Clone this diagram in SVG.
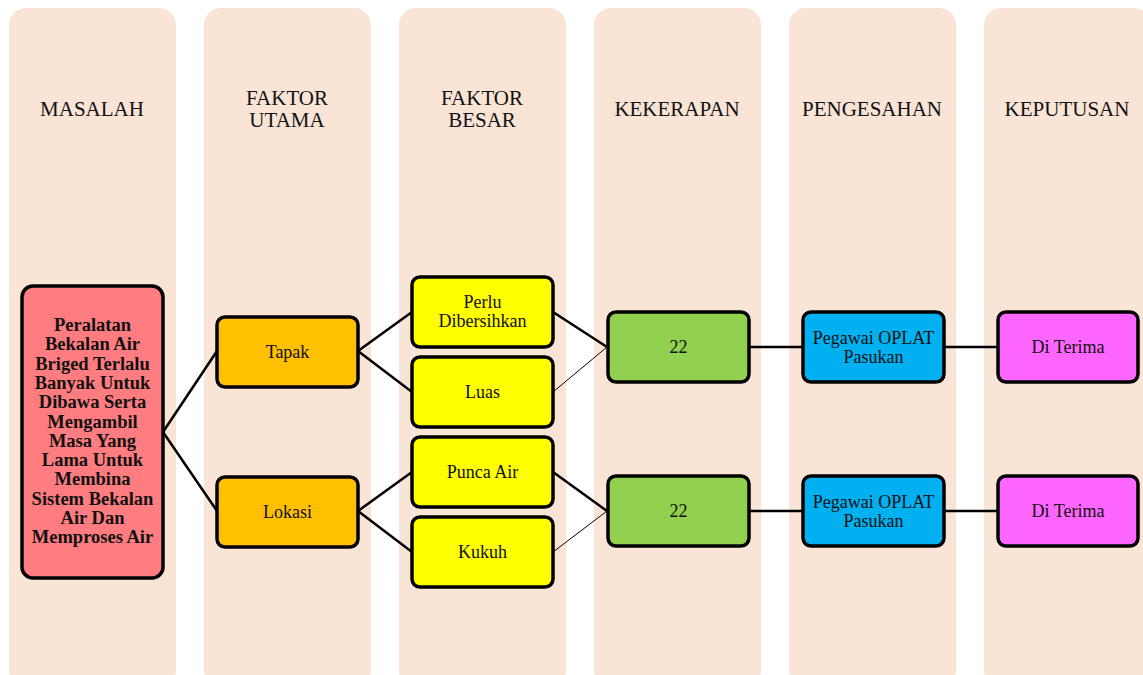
<svg xmlns="http://www.w3.org/2000/svg" width="1143" height="675" viewBox="0 0 1143 675">
<style>
.lane{fill:#FAE4D6;}
.hd{font-family:"Liberation Serif",serif;font-size:21px;fill:#111;text-anchor:middle;}
.nd{stroke:#000;stroke-width:3.5;}
.tx{font-family:"Liberation Serif",serif;font-size:18px;fill:#111;text-anchor:middle;dominant-baseline:central;}
.bt{font-family:"Liberation Serif",serif;font-size:18.5px;font-weight:bold;fill:#111;text-anchor:middle;dominant-baseline:central;}
.ck{stroke:#000;stroke-width:2.5;fill:none;}
.cn{stroke:#000;stroke-width:1;fill:none;}
</style>
<rect width="1143" height="675" fill="#fff"/>
<g id="lanes">
<rect class="lane" x="9" y="8" width="167" height="680" rx="17"/>
<rect class="lane" x="204" y="8" width="167" height="680" rx="17"/>
<rect class="lane" x="399" y="8" width="167" height="680" rx="17"/>
<rect class="lane" x="594" y="8" width="167" height="680" rx="17"/>
<rect class="lane" x="789" y="8" width="167" height="680" rx="17"/>
<rect class="lane" x="984" y="8" width="167" height="680" rx="17"/>
<text class="hd" x="92" y="116">MASALAH</text>
<text class="hd" x="287" y="105">FAKTOR</text>
<text class="hd" x="287" y="127">UTAMA</text>
<text class="hd" x="482" y="105">FAKTOR</text>
<text class="hd" x="482" y="127">BESAR</text>
<text class="hd" x="677" y="116">KEKERAPAN</text>
<text class="hd" x="872" y="116">PENGESAHAN</text>
<text class="hd" x="1067" y="116">KEPUTUSAN</text>
</g>
<g id="connectors">
<line class="ck" x1="163" y1="432" x2="217" y2="351"/>
<line class="ck" x1="163" y1="432" x2="217" y2="511"/>
<line class="ck" x1="358" y1="351" x2="412" y2="312"/>
<line class="ck" x1="358" y1="351" x2="412" y2="392"/>
<line class="ck" x1="358" y1="511" x2="412" y2="472"/>
<line class="ck" x1="358" y1="511" x2="412" y2="552"/>
<line class="ck" x1="553" y1="312" x2="607" y2="347"/>
<line class="cn" x1="553" y1="392" x2="607" y2="347"/>
<line class="ck" x1="553" y1="472" x2="607" y2="511"/>
<line class="cn" x1="553" y1="552" x2="607" y2="511"/>
<line class="ck" x1="749" y1="347" x2="802" y2="347"/>
<line class="ck" x1="944" y1="347" x2="997" y2="347"/>
<line class="ck" x1="749" y1="511" x2="802" y2="511"/>
<line class="ck" x1="944" y1="511" x2="997" y2="511"/>
</g>
<g id="n-masalah">
<rect class="nd" x="22" y="286" width="141" height="292" rx="11" fill="#FF7C80"/>
<text class="bt" x="92.5" y="325">Peralatan</text>
<text class="bt" x="92.5" y="344.3">Bekalan Air</text>
<text class="bt" x="92.5" y="363.6">Briged Terlalu</text>
<text class="bt" x="92.5" y="382.9">Banyak Untuk</text>
<text class="bt" x="92.5" y="402.2">Dibawa Serta</text>
<text class="bt" x="92.5" y="421.5">Mengambil</text>
<text class="bt" x="92.5" y="440.8">Masa Yang</text>
<text class="bt" x="92.5" y="460.1">Lama Untuk</text>
<text class="bt" x="92.5" y="479.4">Membina</text>
<text class="bt" x="92.5" y="498.7">Sistem Bekalan</text>
<text class="bt" x="92.5" y="518">Air Dan</text>
<text class="bt" x="92.5" y="537.3">Memproses Air</text>
</g>
<g id="n-tapak">
<rect class="nd" x="217" y="317" width="141" height="70" rx="8" fill="#FFC000"/>
<text class="tx" x="287.5" y="352">Tapak</text>
</g>
<g id="n-lokasi">
<rect class="nd" x="217" y="477" width="141" height="70" rx="8" fill="#FFC000"/>
<text class="tx" x="287.5" y="512">Lokasi</text>
</g>
<g id="n-perlu">
<rect class="nd" x="412" y="277" width="141" height="70" rx="8" fill="#FFFF00"/>
<text class="tx" x="482.5" y="302">Perlu</text>
<text class="tx" x="482.5" y="321">Dibersihkan</text>
</g>
<g id="n-luas">
<rect class="nd" x="412" y="357" width="141" height="70" rx="8" fill="#FFFF00"/>
<text class="tx" x="482.5" y="392">Luas</text>
</g>
<g id="n-punca">
<rect class="nd" x="412" y="437" width="141" height="70" rx="8" fill="#FFFF00"/>
<text class="tx" x="482.5" y="472">Punca Air</text>
</g>
<g id="n-kukuh">
<rect class="nd" x="412" y="517" width="141" height="70" rx="8" fill="#FFFF00"/>
<text class="tx" x="482.5" y="552">Kukuh</text>
</g>
<g id="n-k1">
<rect class="nd" x="608" y="312" width="141" height="70" rx="8" fill="#92D050"/>
<text class="tx" x="678.5" y="347">22</text>
</g>
<g id="n-k2">
<rect class="nd" x="608" y="476" width="141" height="70" rx="8" fill="#92D050"/>
<text class="tx" x="678.5" y="511">22</text>
</g>
<g id="n-p1">
<rect class="nd" x="803" y="312" width="141" height="70" rx="8" fill="#00B0F0"/>
<text class="tx" x="873.5" y="338">Pegawai OPLAT</text>
<text class="tx" x="873.5" y="357">Pasukan</text>
</g>
<g id="n-p2">
<rect class="nd" x="803" y="476" width="141" height="70" rx="8" fill="#00B0F0"/>
<text class="tx" x="873.5" y="501.5">Pegawai OPLAT</text>
<text class="tx" x="873.5" y="520.5">Pasukan</text>
</g>
<g id="n-d1">
<rect class="nd" x="998" y="312" width="140" height="70" rx="8" fill="#FF66FF"/>
<text class="tx" x="1068" y="347">Di Terima</text>
</g>
<g id="n-d2">
<rect class="nd" x="998" y="476" width="140" height="70" rx="8" fill="#FF66FF"/>
<text class="tx" x="1068" y="511">Di Terima</text>
</g>
</svg>
